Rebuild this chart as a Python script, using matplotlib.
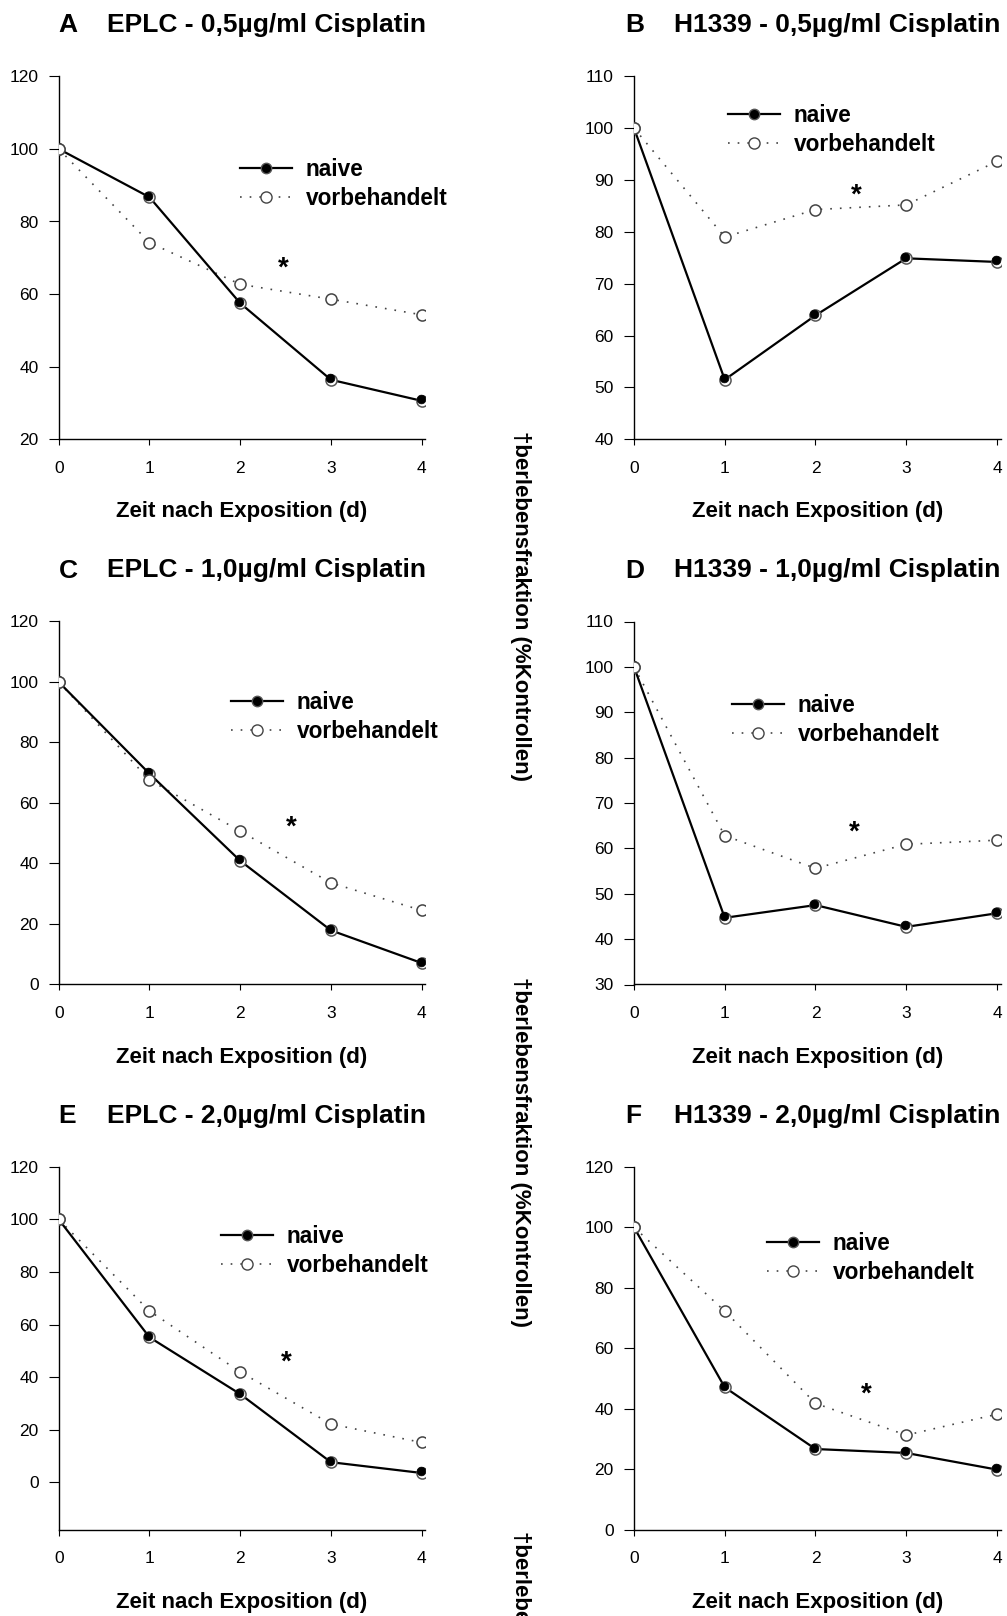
import matplotlib
matplotlib.use('Agg')
import matplotlib.pyplot as plt
import matplotlib.transforms as mtransforms
from matplotlib.lines import Line2D

plt.rcParams['font.family'] = ['Liberation Sans', 'DejaVu Sans']

# ---- data ----
days = [0, 1, 2, 3, 4]

naive_a = [100, 86.7, 57.5, 36.4, 30.6]
vorb_a = [100, 74.2, 62.7, 58.6, 54.3]
naive_b = [100, 51.5, 63.9, 74.9, 74.2]
vorb_b = [100, 79.0, 84.3, 85.2, 93.6]
naive_c = [100, 69.7, 40.9, 17.9, 7.1]
vorb_c = [100, 67.6, 50.7, 33.6, 24.5]
naive_d = [100, 44.7, 47.5, 42.7, 45.7]
vorb_d = [100, 62.8, 55.6, 60.9, 61.8]
naive_e = [100, 55.2, 33.6, 7.7, 3.6]
vorb_e = [100, 65.2, 42.0, 22.2, 15.2]
naive_f = [100, 47.1, 26.7, 25.4, 19.9]
vorb_f = [100, 72.3, 41.8, 31.3, 38.2]

letters = ['A', 'B', 'C', 'D', 'E', 'F']
titles = ['EPLC - 0,5µg/ml Cisplatin', 'H1339 - 0,5µg/ml Cisplatin',
          'EPLC - 1,0µg/ml Cisplatin', 'H1339 - 1,0µg/ml Cisplatin',
          'EPLC - 2,0µg/ml Cisplatin', 'H1339 - 2,0µg/ml Cisplatin']
naive_all = [naive_a, naive_b, naive_c, naive_d, naive_e, naive_f]
vorb_all = [vorb_a, vorb_b, vorb_c, vorb_d, vorb_e, vorb_f]
ylims = [(20, 120), (40, 110), (0, 120), (30, 110), (-18, 120), (0, 120)]
yticks = [range(20, 121, 20), range(40, 111, 10), range(0, 121, 20),
          range(30, 111, 10), range(0, 121, 20), range(0, 121, 20)]
star_x = [2.47, 2.45, 2.56, 2.43, 2.51, 2.56]
star_y = [69, 88.4, 54, 65, 48, 47]
xlabel = 'Zeit nach Exposition (d)'
ylabel = '†berlebensfraktion (%Kontrollen)'

# ---- layout (pixels of a 1007x1616 canvas) ----
W, H = 1007, 1616
col_left = [58.7, 634.0]
row_top = [76.3, 621.5, 1166.8]
ax_w, ax_h = 366.6, 363.0
legend_px = [(240, 171), (728, 117), (231, 704), (732, 707), (221, 1238), (767, 1245)]
ylabel_tops = [431, 977, 1531]

fig = plt.figure(figsize=(W / 100, H / 100), dpi=100)

for k in range(6):
    r, c = divmod(k, 2)
    left, top = col_left[c], row_top[r]
    ax = fig.add_axes([left / W, 1 - (top + ax_h) / H, ax_w / W, ax_h / H])
    ax.set_xlim(0, 4.04)
    ax.set_ylim(*ylims[k])
    ax.spines['top'].set_visible(False)
    ax.spines['right'].set_visible(False)
    for s in ('left', 'bottom'):
        ax.spines[s].set_linewidth(1.0)
    ax.set_xticks(days)
    ax.set_yticks(list(yticks[k]))
    ax.tick_params(axis='y', direction='out', length=7.5, width=0.8, labelsize=12.5, pad=7)
    ax.tick_params(axis='x', direction='out', length=4.5, width=0.8, labelsize=12.5, pad=11)

    # naive: solid black line, grey ring + black dot slightly up-left
    ax.plot(days, naive_all[k], '-', color='black', lw=1.6, zorder=3)
    ax.plot(days, naive_all[k], 'o', ms=8, mfc='white', mec='#555555', mew=1.1, zorder=4)
    dot_tr = mtransforms.offset_copy(ax.transData, fig=fig, x=-1.0, y=1.5, units='dots')
    ax.plot(days, naive_all[k], 'o', ms=6.3, mfc='black', mec='black', mew=0.5,
            transform=dot_tr, zorder=5)

    # vorbehandelt: sparse dotted grey line, open circles
    ax.plot(days, vorb_all[k], color='#444444', lw=1.2, ls=(0, (1, 4.8)), zorder=2)
    ax.plot(days, vorb_all[k], 'o', ms=8, mfc='white', mec='#444444', mew=1.1, zorder=6)

    ax.annotate('*', (star_x[k], star_y[k]), xytext=(0, -10), textcoords='offset points',
                ha='center', va='baseline', fontsize=20, fontweight='bold')

    # titles
    ty = 1 + 44 / ax_h
    tx = -8.5 / ax_w if c == 1 else 0
    ax.text(tx, ty, letters[k], transform=ax.transAxes, fontsize=19,
            fontweight='bold', ha='left', va='baseline')
    ax.text(tx + 48 / ax_w, ty, titles[k], transform=ax.transAxes, fontsize=19,
            fontweight='bold', ha='left', va='baseline')

    ax.set_xlabel(xlabel, fontsize=16, fontweight='bold')
    ax.xaxis.set_label_coords(0.5, -(501 - 439) / ax_h)

    handles = [
        Line2D([0], [0], color='black', lw=1.6, marker='o', ms=7.5, mfc='black', mec='#555555'),
        Line2D([0], [0], color='#444444', lw=1.2, ls=(0, (1, 4.8)), marker='o', ms=8,
               mfc='white', mec='#444444'),
    ]
    lx, ly = legend_px[k]
    ax.legend(handles, ['naive', 'vorbehandelt'], loc='upper left',
              bbox_to_anchor=((lx - left) / ax_w, 1 - (ly - 13 - top) / ax_h),
              frameon=False, borderpad=0, borderaxespad=0, handlelength=2.3,
              handletextpad=0.6, labelspacing=0.26,
              prop={'size': 16.3, 'weight': 'bold'})

for t in ylabel_tops:
    fig.text(520.5 / W, 1 - t / H, ylabel, rotation=270, ha='center', va='top',
             fontsize=16, fontweight='bold')

fig.savefig('out.png', dpi=100)
